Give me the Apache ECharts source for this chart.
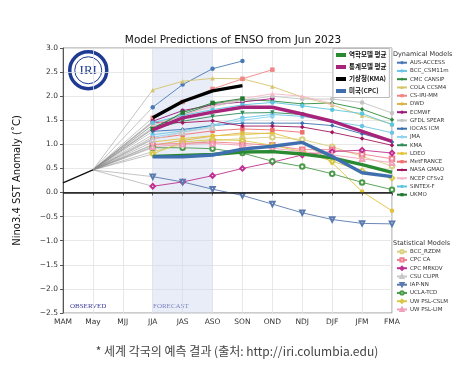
<!DOCTYPE html>
<html><head><meta charset="utf-8">
<script src="https://cdn.jsdelivr.net/npm/echarts@6/dist/echarts.min.js"></script>
<style>html,body{margin:0;padding:0;background:#fff}#c{width:474px;height:390px}</style>
</head><body><div id="c"></div>
<script>
// ---- data ----
const categories = ['MAM','May','MJJ','JJA','JAS','ASO','SON','OND','NDJ','DJF','JFM','FMA'];
const yTicks = [-2.5,-2.0,-1.5,-1.0,-0.5,0.0,0.5,1.0,1.5,2.0,2.5,3.0];
const observed = [0.20, 0.47];   // MAM, May
// forecasts, seasons JJA..FMA
const dynNames = ['AUS-ACCESS','BCC_CSM11m','CMC CANSIP','COLA CCSM4','CS-IRI-MM','DWD','ECMWF','GFDL SPEAR','IOCAS ICM','JMA','KMA','LDEO','MetFRANCE','NASA GMAO','NCEP CFSv2','SINTEX-F','UKMO'];
const dynValues = [
  [1.77, 2.24, 2.57, 2.73, null, null, null, null, null],
  [1.20, 1.28, 1.40, 1.55, 1.62, 1.58, 1.48, 1.38, 1.24],
  [1.35, 1.62, 1.84, 1.93, 1.90, 1.84, 1.86, 1.73, 1.51],
  [2.13, 2.31, 2.37, 2.36, 2.20, 1.98, 1.82, 1.60, 1.42],
  [1.55, 1.88, 2.15, 2.36, 2.55, null, null, null, null],
  [0.98, 1.08, 1.17, 1.24, 1.22, null, null, null, null],
  [1.48, 1.70, 1.82, 1.88, 1.95, null, null, null, null],
  [1.40, 1.62, 1.78, 1.92, 2.00, 1.94, 1.94, 1.87, 1.65],
  [1.27, 1.31, 1.39, 1.44, 1.44, 1.44, 1.39, 1.22, 1.05],
  [1.15, 1.25, 1.38, 1.50, 1.58, null, null, null, null],
  [1.32, 1.48, 1.58, 1.65, 1.66, 1.62, null, null, null],
  [1.05, 1.12, 1.18, 1.20, 1.24, 1.06, 0.62, 0.02, -0.38],
  [1.12, 1.20, 1.28, 1.32, 1.30, 1.25, null, null, null],
  [1.46, 1.45, 1.49, 1.38, 1.38, 1.36, 1.25, 1.12, 0.98],
  [1.40, 1.60, 1.80, 1.95, 2.05, 2.00, 1.85, null, null],
  [1.45, 1.60, 1.72, 1.82, 1.87, 1.80, 1.72, 1.64, 1.41],
  [1.32, 1.66, 1.86, 1.95, null, null, null, null, null]
];
const statNames = ['BCC_RZDM','CPC CA','CPC MRKOV','CSU CLIPR','IAP-NN','UCLA-TCD','UW PSL-CSLM','UW PSL-LIM'];
const statValues = [
  [0.85, 1.00, 1.08, 1.12, 1.15, 1.10, 0.95, 0.75, 0.55],
  [1.00, 1.02, 1.05, 1.02, 0.98, 0.89, 0.89, 0.80, 0.70],
  [0.13, 0.22, 0.35, 0.50, 0.63, 0.78, 0.85, 0.88, 0.82],
  [1.10, 1.25, 1.35, null, null, null, null, null, null],
  [0.33, 0.22, 0.07, -0.06, -0.24, -0.42, -0.56, -0.64, -0.65],
  [0.93, 0.93, 0.91, 0.82, 0.65, 0.54, 0.39, 0.21, 0.06],
  [0.80, 1.05, 1.10, 1.08, 0.98, 0.85, 0.65, 0.45, 0.30],
  [0.95, 1.00, 1.02, 0.98, 0.92, 0.85, 0.78, 0.70, 0.62]
];
const avgNames = ['역학모델 평균','통계모델 평균','기상청(KMA)','미국(CPC)'];
const avgDyn  = [0.75, 0.77, 0.79, 0.84, 0.85, 0.80, 0.72, 0.58, 0.42];
const avgStat = [1.30, 1.55, 1.67, 1.77, 1.77, 1.63, 1.48, 1.27, 1.06];
const kmaLine = [1.55, 1.89, 2.11, 2.22, null, null, null, null, null];
const cpcLine = [0.74, 0.74, 0.78, 0.90, 0.96, 1.04, 0.75, 0.41, 0.33];

// ---- styles ----
const dynStyle = [
  ['#4a7ab5','circle',0],['#6cc4e8','circle',0],['#2e8b3e','diamond',0],['#d6c46c','triangle',0],
  ['#f08585','rect',0],['#d9b44a','circle',0],['#9b1b7a','circle',0],['#c4c4c4','circle',0],
  ['#3a6fad','diamond',0],['#8fd3f0','circle',0],['#2e8b57','triangle',180],['#e3c23c','circle',0],
  ['#ef6f6f','rect',0],['#a0155f','diamond',0],['#f5b8c8','triangle',0],['#5cc6de','circle',0],['#1f7a2f','rect',0]
];
const statStyle = [
  ['#d8cf80','emptyCircle',0],['#f08090','emptyRect',0],['#c03090','emptyDiamond',0],['#c8c8c8','emptyTriangle',0],
  ['#5a7ab0','emptyTriangle',180],['#4a9a4a','emptyCircle',0],['#d8c84a','emptyDiamond',0],['#f0a0b8','emptyTriangle',0]
];
const pre = [null, null, null];
const series = [];
series.push({
  name:'observed', type:'line', data: observed, symbol:'none', z:3,
  lineStyle:{color:'#111', width:1.3}, silent:true,
  markArea:{silent:true, itemStyle:{color:'rgba(205,215,238,0.45)'}, data:[[{xAxis:'JJA'},{xAxis:'ASO'}]]},
  markLine:{silent:true, symbol:'none', label:{show:false}, lineStyle:{color:'#222', width:1.6, type:'solid'}, data:[{yAxis:0}]}
});
const allVals = dynValues.concat(statValues);
allVals.forEach(v => {
  series.push({type:'line', data:[null, observed[1], null, v[0]], connectNulls:true, symbol:'none', z:1, silent:true,
    lineStyle:{color:'#8a8a8a', width:0.6, opacity:0.85}});
});
dynNames.forEach((n,i) => {
  const s = dynStyle[i];
  series.push({name:n, type:'line', data: pre.concat(dynValues[i]), symbol:s[1], symbolRotate:s[2], symbolSize:4.5, z:2,
    lineStyle:{color:s[0], width:0.9}, itemStyle:{color:s[0]}});
});
statNames.forEach((n,i) => {
  const s = statStyle[i];
  series.push({name:n, type:'line', data: pre.concat(statValues[i]), symbol:s[1], symbolRotate:s[2], symbolSize:4.5, z:2,
    lineStyle:{color:s[0], width:0.9}, itemStyle:{color:s[0], borderColor:s[0]}});
});
const avgCols = ['#2a8a32','#a8237a','#000000','#3f6fae'];
[avgDyn, avgStat, kmaLine, cpcLine].forEach((v,i) => {
  series.push({name:avgNames[i], type:'line', data: pre.concat(v), symbol:'none', z:4 + (i===2?1:0),
    lineStyle:{color:avgCols[i], width:3.4}, itemStyle:{color:avgCols[i]}});
});

const ff = 'DejaVu Sans';
const legendBase = {orient:'vertical', left:396, itemWidth:10, itemHeight:4, itemGap:2.25, padding:0,
  textStyle:{fontSize:5.5, lineHeight:5.5, color:'#333', fontFamily:ff, padding:[0,0,0,-2]}};

const chart = echarts.init(document.getElementById('c'), null, {renderer:'canvas'});
chart.setOption({
  animation:false,
  backgroundColor:'#fff',
  title:{text:'Model Predictions of ENSO from Jun 2023', left:228, top:30, textAlign:'center',
    textStyle:{fontSize:10.5, fontWeight:'normal', color:'#111', fontFamily:ff}},
  grid:{left:63, right:82, top:48, bottom:77, show:true, borderColor:'#999', borderWidth:1},
  xAxis:{type:'category', data:categories, boundaryGap:false,
    axisLine:{lineStyle:{color:'#555'}}, axisTick:{show:true, length:3, lineStyle:{color:'#555'}},
    axisLabel:{interval:0, fontSize:7.5, color:'#333', fontFamily:ff, margin:5},
    splitLine:{show:true, lineStyle:{color:'#e2e2e2', width:0.8}}},
  yAxis:{type:'value', min:yTicks[0], max:yTicks[yTicks.length-1], interval:0.5,
    name:'Nino3.4 SST Anomaly (˚C)', nameLocation:'middle', nameGap:41,
    nameTextStyle:{fontSize:10, color:'#111', fontFamily:ff},
    axisLine:{show:true, lineStyle:{color:'#555'}}, axisTick:{show:true, length:3, lineStyle:{color:'#555'}},
    axisLabel:{fontSize:7.5, color:'#333', fontFamily:ff, margin:5, formatter:v => v.toFixed(1).replace('-', '−')},
    splitLine:{lineStyle:{color:'#e2e2e2', width:0.8}}},
  legend:[
    Object.assign({}, legendBase, {data:dynNames, top:59.7}),
    Object.assign({}, legendBase, {data:statNames, top:248.7}),
    {data:avgNames, orient:'vertical', left:333, top:48.5, icon:'rect', itemWidth:10, itemHeight:4, itemGap:5,
      padding:[3,3,3,3], backgroundColor:'#fff', borderColor:'#bbb', borderWidth:1,
      textStyle:{fontSize:6.5, lineHeight:7, fontWeight:'bold', color:'#111', fontFamily:'Noto Sans CJK KR', padding:[0,0,0,-2]}}
  ],
  graphic:[
    {type:'text', left:393, top:51, style:{text:'Dynamical Models', fontSize:6.5, fill:'#333', fontFamily:ff}},
    {type:'text', left:393, top:240, style:{text:'Statistical Models', fontSize:6.5, fill:'#333', fontFamily:ff}},
    {type:'text', left:70, top:303, style:{text:'OBSERVED', fontSize:7, fill:'#3a3a9a', fontFamily:'Liberation Serif'}},
    {type:'text', left:153, top:303, style:{text:'FORECAST', fontSize:7, fill:'#3a3a9a', fontFamily:'Liberation Serif'}},
    {type:'group', left:68, top:50, children:[
      {type:'circle', shape:{cx:20.5, cy:19.5, r:18.5}, style:{fill:'#fff', stroke:'#1f3a93', lineWidth:3.5}},
      {type:'circle', shape:{cx:20.5, cy:19.5, r:13.5}, style:{fill:'none', stroke:'#1f3a93', lineWidth:1}},
      {type:'text', x:20.5, y:19.5, style:{text:'IRI', fontSize:13, fill:'#1f3a93', fontFamily:'Liberation Serif', align:'center', verticalAlign:'middle'}}
    ]},
    {type:'text', left:'center', top:345, style:{text:'* 세계 각국의 예측 결과 (출처: http://iri.columbia.edu)', fontSize:12, fill:'#444', fontFamily:'Noto Sans CJK KR'}}
  ],
  series: series
});
</script></body></html>
